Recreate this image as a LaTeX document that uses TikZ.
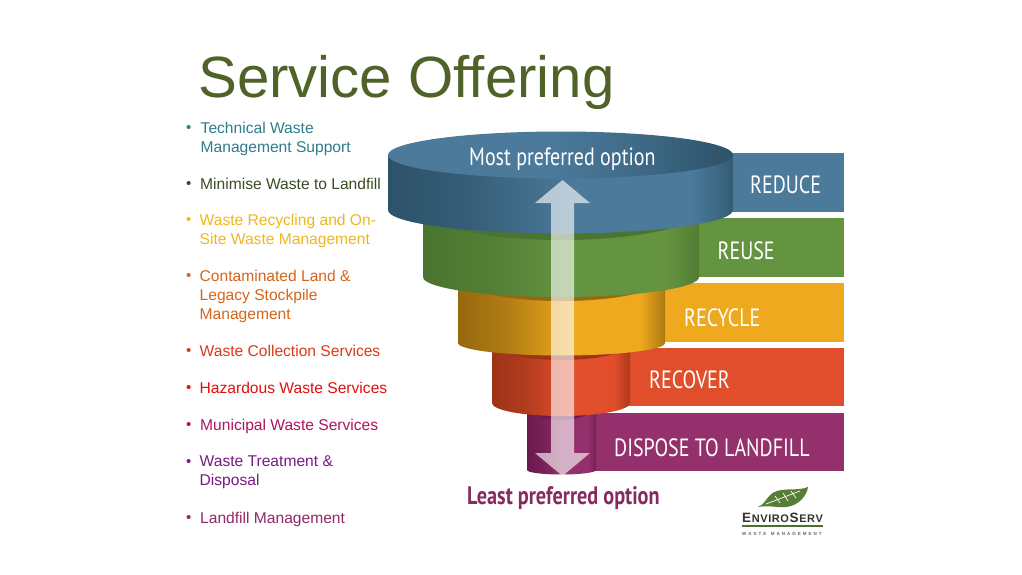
\documentclass[tikz,border=0pt]{standalone}
\usepackage{fontspec}
\setmainfont{Liberation Sans}
\newfontfamily\bandfont[FakeStretch=0.8]{PT Sans}
\usetikzlibrary{calc}
\definecolor{cblue}{HTML}{4B7A9B}\definecolor{cbluedk}{HTML}{2D5269}
\definecolor{cgreen}{HTML}{659440}\definecolor{cgreendk}{HTML}{4A7530}
\definecolor{cyellow}{HTML}{EEA91E}\definecolor{cyellowdk}{HTML}{96690F}
\definecolor{cred}{HTML}{E04E2C}\definecolor{creddk}{HTML}{9E3318}
\definecolor{cpurple}{HTML}{94306B}\definecolor{cpurpledk}{HTML}{6A1A4E}
\definecolor{titlegreen}{HTML}{4F6228}
\definecolor{lteal}{HTML}{2F7C8C}\definecolor{lolive}{HTML}{3B4A26}
\definecolor{lyellow}{HTML}{F0B622}\definecolor{lorange}{HTML}{D5651A}
\definecolor{lred}{HTML}{DB3A16}\definecolor{lcrimson}{HTML}{E0100F}
\definecolor{lmag}{HTML}{B2125F}\definecolor{lviolet}{HTML}{7A1A86}
\definecolor{lplum}{HTML}{8E2A66}
\newcommand{\mkshade}[3]{%
 \pgfdeclarehorizontalshading{#1}{100bp}{color(0bp)=(#2); color(25bp)=(#2); color(37bp)=(#2!70!#3); color(52bp)=(#3); color(69bp)=(#3); color(75bp)=(#2!75!#3); color(100bp)=(#2)}}
\mkshade{sblue}{cbluedk}{cblue}
\mkshade{sgreen}{cgreendk}{cgreen}
\mkshade{syellow}{cyellowdk}{cyellow}
\mkshade{sred}{creddk}{cred}
\mkshade{spurple}{cpurpledk}{cpurple}
\pgfdeclarehorizontalshading{stop}{100bp}{color(0bp)=(cblue); color(48bp)=(cblue); color(60bp)=(cblue!65!cbluedk); color(75bp)=(cbluedk); color(100bp)=(cbluedk)}
\tikzset{x=1pt,y=-1pt,
 bandtext/.style={font=\bandfont\fontsize{25}{25}\selectfont,text=white,anchor=base west,inner sep=0pt},
 prefer/.style={font=\bandfont\fontsize{25}{25}\selectfont,anchor=base west,inner sep=0pt},
 listitem/.style={font=\fontsize{15.6}{18.9}\selectfont,anchor=north west,inner sep=0pt,align=left},
 bulletmark/.style={font=\fontsize{15}{18.8}\selectfont,anchor=north west,inner sep=0pt},
}
% #1 xl, #2 xr, #3 top y, #4 side-bottom y, #5 ry, #6 shading
\newcommand{\funnelcyl}[6]{%
 \pgfmathsetmacro{\rxv}{(#2-#1)/2}%
 \shade[shading=#6]
   (#1,#3) -- (#1,#4) arc[start angle=180,end angle=0,x radius=\rxv,y radius=#5] -- (#2,#3) -- cycle;
}
% shadow lens: #1 xl,#2 xr,#3 y centre,#4 ry,#5 colour
\newcommand{\funnelshadow}[5]{%
 \pgfmathsetmacro{\rxv}{(#2-#1)/2}%
 \fill[#5] (#1,#3) arc[start angle=180,end angle=0,x radius=\rxv,y radius=#4] -- cycle;
}
\newcommand{\wastitem}[5]{%
 \pgfmathsetmacro{\byv}{#2+3.5}%
 \node[bulletmark,text=#4] (b#1) at (186,\byv) {•};
 \node[listitem,text=#4] (t#1) at (#3,#2) {#5};
}
\begin{document}
\begin{tikzpicture}
\useasboundingbox (0,0) rectangle (1022,575);
\fill[white] (0,0) rectangle (1022,575);
\node[font=\fontsize{58.2}{58}\selectfont,text=titlegreen,anchor=base west,inner sep=0pt] (title) at (198,98) {Service Offering};
% list
\wastitem{a}{122}{200.5}{lteal}{Technical Waste\\Management Support}
\wastitem{b}{178}{200}{lolive}{Minimise Waste to Landfill}
\wastitem{c}{214}{199.5}{lyellow}{Waste Recycling and On-\\Site Waste Management}
\wastitem{d}{270}{199.5}{lorange}{Contaminated Land \&\\Legacy Stockpile\\Management}
\wastitem{e}{344.5}{199.5}{lred}{Waste Collection Services}
\wastitem{f}{381.5}{199.5}{lcrimson}{Hazardous Waste Services}
\wastitem{g}{419}{200}{lmag}{Municipal Waste Services}
\wastitem{h}{455.5}{199.5}{lviolet}{Waste Treatment \&\\Disposal}
\wastitem{i}{511.5}{200}{lplum}{Landfill Management}
% bands
\fill[cpurple] (560,413) rectangle (844,471);
\fill[cred] (600,348) rectangle (844,406);
\fill[cyellow] (640,283) rectangle (844,342);
\fill[cgreen] (680,218) rectangle (844,277);
\fill[cblue] (700,153) rectangle (844,212);
% cylinders from bottom to top
\funnelcyl{527}{596}{400}{470}{4.5}{spurple}
\funnelshadow{527}{596}{403}{17}{cpurpledk}
\funnelcyl{492}{630}{340}{403}{13}{sred}
\funnelshadow{492}{630}{343}{17}{creddk}
\funnelcyl{458}{665}{280}{343}{12.5}{syellow}
\funnelshadow{458}{665}{277}{24}{cyellowdk}
\funnelcyl{423}{699}{210}{277}{20}{sgreen}
\funnelshadow{423}{699}{210}{30}{cgreendk}
\funnelcyl{388}{733}{155}{210}{23.5}{sblue}
\shade[shading=stop] (560.5,155) ellipse [x radius=172.5,y radius=23.5];
% arrow
\fill[white,opacity=0.62] (562.5,180) -- (590,203) -- (574,203) -- (574,453) -- (590,453) -- (562.5,476)
  -- (535,453) -- (551,453) -- (551,203) -- (535,203) -- cycle;
% band labels
\node[bandtext] (lreduce) at (750,193) {REDUCE};
\node[bandtext] (lreuse) at (717.5,259) {REUSE};
\node[bandtext] (lrecycle) at (684,326) {RECYCLE};
\node[bandtext] (lrecover) at (649,388) {RECOVER};
\node[bandtext] (ldispose) at (614,456) {DISPOSE TO LANDFILL};
\node[prefer,text=white] (most) at (469,165) {Most preferred option};
\node[prefer,font=\bandfont\bfseries\fontsize{25.3}{25}\selectfont,text=cpurple!90!black] (least) at (467,504) {Least preferred option};
% logo
\fill[cgreen!85!black] (758,507) .. controls (766,504) and (767,494) .. (777,491)
  .. controls (787,488) and (798,491) .. (808,487) .. controls (807,496) and (798,506) .. (786,507)
  .. controls (778,508) and (770,505) .. (758,507) -- cycle;
\draw[white,line width=0.7pt] (766,504) -- (800,491);
\draw[white,line width=0.7pt] (775,496) -- (780,503) (783,493) -- (788,501) (791,491) -- (796,498);
\node[font=\bfseries\fontsize{13.5}{13}\selectfont,anchor=base west,inner sep=0pt,text=black!80] (logoname) at (742,522) {E{\fontsize{11}{11}\selectfont\hspace{0.6pt}N\hspace{0.6pt}V\hspace{0.6pt}I\hspace{0.6pt}R\hspace{0.6pt}O\hspace{0.6pt}}S{\fontsize{11}{11}\selectfont\hspace{0.6pt}E\hspace{0.6pt}R\hspace{0.6pt}V}};
\draw[cgreen!75!black,line width=1.4pt] (742,526) -- (823,526);
\node[font=\bfseries\fontsize{4.5}{5}\selectfont,anchor=base west,inner sep=0pt,text=black!60] (logosub) at (742,535) {W\hspace{2pt}A\hspace{2pt}S\hspace{2pt}T\hspace{2pt}E\hspace{4.5pt}M\hspace{2pt}A\hspace{2pt}N\hspace{2pt}A\hspace{2pt}G\hspace{2pt}E\hspace{2pt}M\hspace{2pt}E\hspace{2pt}N\hspace{2pt}T};
\end{tikzpicture}
\end{document}
